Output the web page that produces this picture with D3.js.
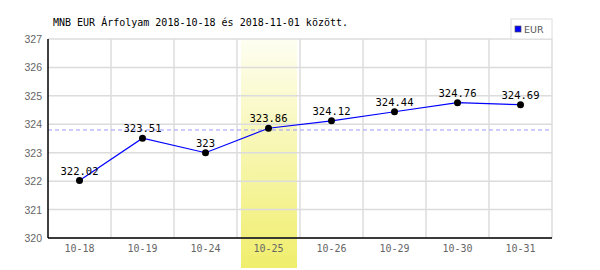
<!DOCTYPE html>
<html>
<head>
<meta charset="utf-8">
<script src="https://cdn.jsdelivr.net/npm/d3@7"></script>
<style>
  body { margin: 0; background: #fff; }
  svg { display: block; }
</style>
</head>
<body>
<svg id="chart" width="600" height="270"></svg>
<script>
// --- Data ---
const dates = ["10-18", "10-19", "10-24", "10-25", "10-26", "10-29", "10-30", "10-31"];
const rates = [322.02, 323.51, 323, 323.86, 324.12, 324.44, 324.76, 324.69];
const valueLabels = ["322.02", "323.51", "323", "323.86", "324.12", "324.44", "324.76", "324.69"];
const yTicks = [320, 321, 322, 323, 324, 325, 326, 327];
const highlightDate = "10-25";
const avgRate = 323.8;
const title = "MNB EUR Árfolyam 2018-10-18 és 2018-11-01 között.";
const seriesName = "EUR";

const svg = d3.select("#chart");
const margin = { top: 39, right: 48, bottom: 32, left: 48 };
const innerW = 600 - margin.left - margin.right,
  innerH = 270 - margin.top - margin.bottom;

const mono = "'DejaVu Sans Mono', monospace";

const defs = svg.append("defs");
const grad = defs.append("linearGradient")
  .attr("id", "hl").attr("x1", 0).attr("y1", 0).attr("x2", 0).attr("y2", 1);
grad.append("stop").attr("offset", "0%").attr("stop-color", "#fefef2");
grad.append("stop").attr("offset", "100%").attr("stop-color", "#f0ee6c");

const g = svg.append("g").attr("transform", `translate(${margin.left},${margin.top})`);

const x = d3.scaleBand().domain(dates).range([0, innerW]);
const y = d3.scaleLinear().domain([320, 327]).range([innerH, 0]);

// highlight band
g.append("rect")
  .attr("x", x(highlightDate) + 4)
  .attr("y", 0)
  .attr("width", x.bandwidth() - 7)
  .attr("height", innerH + 30)
  .attr("fill", "url(#hl)");

// grid
g.append("g").selectAll("line")
  .data(yTicks)
  .join("line")
  .attr("x1", 0).attr("x2", innerW)
  .attr("y1", (d) => y(d)).attr("y2", (d) => y(d))
  .attr("stroke", "#dcdcdc").attr("stroke-width", 1.5);

g.append("g").selectAll("line")
  .data(dates.map((d) => x(d) + x.bandwidth()))
  .join("line")
  .attr("x1", (d) => d).attr("x2", (d) => d)
  .attr("y1", 0).attr("y2", innerH)
  .attr("stroke", "#dcdcdc").attr("stroke-width", 1.5);

// average dashed line
g.append("line")
  .attr("x1", 0).attr("x2", innerW)
  .attr("y1", y(avgRate)).attr("y2", y(avgRate))
  .attr("stroke", "#9999ff").attr("stroke-dasharray", "4,3");

// axes
g.append("line").attr("x1", 0).attr("x2", 0).attr("y1", 0).attr("y2", innerH)
  .attr("stroke", "#000").attr("stroke-width", 1.5);
g.append("line").attr("x1", 0).attr("x2", innerW).attr("y1", innerH).attr("y2", innerH)
  .attr("stroke", "#000").attr("stroke-width", 1.5);

g.append("g").selectAll("text")
  .data(yTicks)
  .join("text")
  .attr("x", -6)
  .attr("y", (d) => y(d) + 4)
  .attr("text-anchor", "end")
  .attr("font-family", "'Liberation Sans', sans-serif")
  .attr("font-size", 10.5)
  .attr("fill", "#666")
  .text((d) => d);

g.append("g").selectAll("text")
  .data(dates)
  .join("text")
  .attr("x", (d) => x(d) + x.bandwidth() / 2)
  .attr("y", innerH + 14)
  .attr("text-anchor", "middle")
  .attr("font-family", mono)
  .attr("font-size", 10)
  .attr("fill", "#666")
  .text((d) => d);

// line + points
const cx = (i) => x(dates[i]) + x.bandwidth() / 2;
g.append("path")
  .datum(rates)
  .attr("fill", "none")
  .attr("stroke", "#0000ff")
  .attr("stroke-width", 1.2)
  .attr("d", d3.line().x((d, i) => cx(i)).y((d) => y(d)));

g.append("g").selectAll("circle")
  .data(rates)
  .join("circle")
  .attr("cx", (d, i) => cx(i))
  .attr("cy", (d) => y(d))
  .attr("r", 3.5)
  .attr("fill", "#000");

g.append("g").selectAll("text")
  .data(rates)
  .join("text")
  .attr("x", (d, i) => cx(i))
  .attr("y", (d) => y(d) - 6)
  .attr("text-anchor", "middle")
  .attr("font-family", mono)
  .attr("font-size", 10.5)
  .attr("fill", "#000")
  .text((d, i) => valueLabels[i]);

// title
svg.append("text")
  .attr("x", 53).attr("y", 26)
  .attr("font-family", mono)
  .attr("font-size", 10)
  .attr("fill", "#000")
  .text(title);

// legend
const lg = svg.append("g").attr("transform", "translate(511,19)");
lg.append("rect").attr("width", 41).attr("height", 20)
  .attr("fill", "#fff").attr("stroke", "#dcdcdc").attr("stroke-width", 1);
lg.append("rect").attr("x", 4).attr("y", 7).attr("width", 6).attr("height", 6)
  .attr("fill", "#0000ff").attr("stroke", "#555").attr("stroke-width", 0.7);
lg.append("text").attr("x", 13).attr("y", 14)
  .attr("font-family", "'DejaVu Sans', sans-serif")
  .attr("font-size", 9.5).attr("fill", "#555")
  .text(seriesName);
</script>
</body>
</html>
